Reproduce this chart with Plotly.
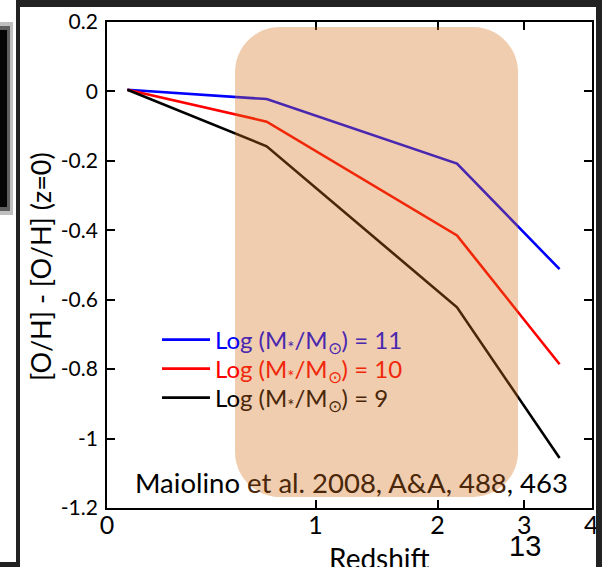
import plotly.graph_objects as go

# ---- data ----
redshift = [0.07, 0.7, 2.2, 3.5]
oh_m11 = [0.005, -0.022, -0.208, -0.512]
oh_m10 = [0.005, -0.087, -0.415, -0.786]
oh_m9 = [0.005, -0.158, -0.622, -1.056]

x_tick_vals = [1, 2, 3, 4, 5]          # 1+z positions on a log axis
x_tick_text = ["0", "1", "2", "3", "4"]
y_tick_vals = [0.2, 0, -0.2, -0.4, -0.6, -0.8, -1.0, -1.2]
y_tick_text = ["0.2", "0", "-0.2", "-0.4", "-0.6", "-0.8", "-1", "-1.2"]

series = [
    ("11", oh_m11, "#0000ff", "#4a27af", "legend", 340),
    ("10", oh_m10, "#ff0000", "#f0270a", "legend2", 369),
    ("9", oh_m9, "#000000", "#4a2709", "legend3", 398),
]

FONT = "Lato"
W, H = 602, 567
L, R, T, B = 107, 10, 22, 59
PW, PH = W - L - R, H - T - B


def px(x):
    return (x - L) / PW


def py(y):
    return (H - B - y) / PH


fig = go.Figure()
onepz = [1 + z for z in redshift]
legends = {}
for mass, vals, col, tint, leg, ly in series:
    name = (f"<span style='color:{col}'>Lo</span>"
            f"<span style='color:{tint}'>g (M<sub>*</sub>/M<sub>⊙</sub>) = {mass}</span>")
    fig.add_trace(go.Scatter(x=onepz, y=vals, mode="lines", name=name, legend=leg,
                             line=dict(color=col, width=2.6)))
    legends[leg] = dict(x=px(157), y=py(ly), xanchor="left", yanchor="middle",
                        bgcolor="rgba(0,0,0,0)", borderwidth=0,
                        font=dict(family=FONT, size=24, color="black"),
                        itemwidth=48)

shapes = []
# rounded translucent highlight box
x0, x1, y0, y1 = px(235), px(518), py(497), py(27)
rx, ry = 45 / PW, 45 / PH
k = 0.4477
path = (f"M{x0+rx},{y1} L{x1-rx},{y1} "
        f"C{x1-rx*k},{y1} {x1},{y1-ry*k} {x1},{y1-ry} "
        f"L{x1},{y0+ry} C{x1},{y0+ry*k} {x1-rx*k},{y0} {x1-rx},{y0} "
        f"L{x0+rx},{y0} C{x0+rx*k},{y0} {x0},{y0+ry*k} {x0},{y0+ry} "
        f"L{x0},{y1-ry} C{x0},{y1-ry*k} {x0+rx*k},{y1} {x0+rx},{y1} Z")
shapes.append(dict(type="path", path=path, xref="paper", yref="paper",
                   fillcolor="rgba(212,112,26,0.35)", line=dict(width=0), layer="above"))


def band(xa, xb, ya, yb, color="#222222"):
    shapes.append(dict(type="rect", xref="paper", yref="paper",
                       x0=px(xa), x1=px(xb), y0=py(yb), y1=py(ya),
                       fillcolor=color, line=dict(width=0), layer="above"))


# slide frame decoration
band(16, 602, 0, 7)
band(16, 20, 0, 567)
band(0, 20, 562, 567)
band(596, 602, 0, 567)
band(0, 13, 22, 215, "rgba(0,0,0,0.25)")
band(0, 10, 26, 211, "rgba(0,0,0,0.5)")
band(0, 7, 30, 207, "#050505")

annotations = [
    dict(text="[O/H] - [O/H] (z=0)", xref="paper", yref="paper", x=px(40), y=py(267),
         textangle=-90, showarrow=False, font=dict(family=FONT, size=27, color="black"),
         xanchor="center", yanchor="middle"),
    dict(text="Redshift", xref="paper", yref="paper", x=px(379), y=py(558),
         showarrow=False, font=dict(family=FONT, size=28, color="black"),
         xanchor="center", yanchor="middle"),
    dict(text="13", xref="paper", yref="paper", x=px(525), y=py(546),
         showarrow=False, font=dict(family="Liberation Sans", size=29, color="black"),
         xanchor="center", yanchor="middle"),
    dict(text="Maiolino <span style='color:#4a2709'>et al. 2008, A&amp;A, 488</span>, 463",
         xref="paper", yref="paper", x=px(351), y=py(482),
         showarrow=False, font=dict(family=FONT, size=27.5, color="black"),
         xanchor="center", yanchor="middle"),
]

fig.update_layout(
    width=W, height=H, autosize=False,
    margin=dict(l=L, r=R, t=T, b=B, autoexpand=False),
    paper_bgcolor="white", plot_bgcolor="white",
    font=dict(family=FONT, size=20, color="black"),
    showlegend=True,
    shapes=shapes,
    annotations=annotations,
    xaxis=dict(type="log", range=[0, 0.7], tickvals=x_tick_vals, ticktext=x_tick_text,
               ticks="inside", ticklen=8, tickwidth=1.5, tickcolor="black",
               showline=True, linecolor="black", linewidth=1.5, mirror="ticks",
               showgrid=False, zeroline=False, ticklabelstandoff=-6, automargin=False,
               tickfont=dict(family=FONT, size=25, color="black")),
    yaxis=dict(range=[-1.2, 0.2], tickvals=y_tick_vals, ticktext=y_tick_text,
               ticks="inside", ticklen=8, tickwidth=1.5, tickcolor="black",
               showline=True, linecolor="black", linewidth=1.8, mirror="ticks",
               showgrid=False, zeroline=False, ticklabelstandoff=3, automargin=False,
               tickfont=dict(family=FONT, size=21, color="black")),
    **legends,
)

fig.write_html("out.html",
               config={"displayModeBar": False, "responsive": False},
               post_script="document.body.style.margin='0';document.body.style.padding='0';"
                           "document.documentElement.style.overflow='hidden';")
